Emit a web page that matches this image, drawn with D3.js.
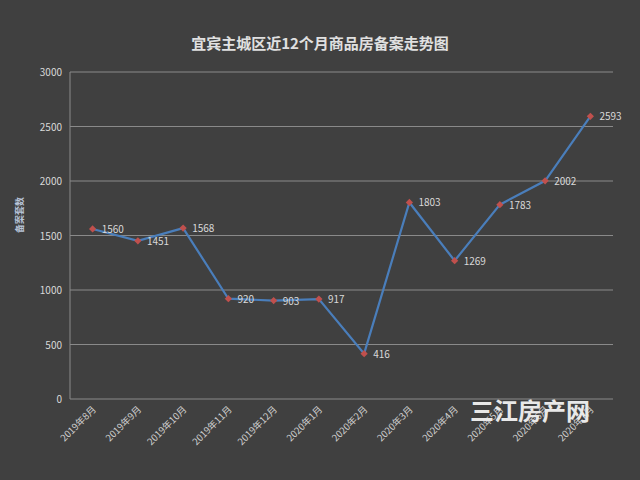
<!DOCTYPE html>
<html><head><meta charset="utf-8">
<script src="https://cdn.jsdelivr.net/npm/d3@7"></script>
<style>body{margin:0;background:#404040}</style>
</head><body><div id="chart"></div>
<script>
var months = ["2019年8月","2019年9月","2019年10月","2019年11月","2019年12月","2020年1月","2020年2月","2020年3月","2020年4月","2020年5月","2020年6月","2020年7月"];
var values = [1560,1451,1568,920,903,917,416,1803,1269,1783,2002,2593];
var yTicks = [0,500,1000,1500,2000,2500,3000];

var w = 640, h = 480;
var svg = d3.select("#chart").append("svg").attr("width", w).attr("height", h)
    .style("background-color", "#404040").style("font-family", "'Noto Sans CJK SC', sans-serif");

var x = d3.scaleBand().domain(months).range([70, 613]);
var y = d3.scaleLinear().domain([0, 3000]).range([399, 72]);

svg.append("text").attr("x", 320).attr("y", 49).attr("text-anchor", "middle")
    .attr("fill", "#e0e0e0").style("font-size", "15px").style("font-weight", "bold")
    .text("宜宾主城区近12个月商品房备案走势图");

// gridlines
svg.selectAll(".grid").data(yTicks).enter().append("line")
    .attr("x1", 70).attr("x2", 613).attr("y1", d => y(d)).attr("y2", d => y(d))
    .attr("stroke", "#8a8a8a").attr("stroke-width", 1);
svg.append("line").attr("x1", 70).attr("x2", 70).attr("y1", 72).attr("y2", 399).attr("stroke", "#8a8a8a");

svg.selectAll(".yl").data(yTicks).enter().append("text")
    .attr("x", 62).attr("y", d => y(d) + 4).attr("text-anchor", "end")
    .attr("fill", "#d9d9d9").style("font-size", "10px").text(d => d);

svg.append("text").attr("transform", "translate(23,215) rotate(-90)").attr("text-anchor", "middle")
    .attr("fill", "#b8c4d8").style("font-size", "9px").style("font-weight", "bold").text("备案套数");

svg.selectAll(".xl").data(months).enter().append("text")
    .attr("transform", d => "translate(" + (x(d) + x.bandwidth()/2 + 4) + ",410) rotate(-45)")
    .attr("text-anchor", "end").attr("fill", "#d0d0d0").style("font-size", "9.5px").text(d => d);

var line = d3.line().x((d, i) => x(months[i]) + x.bandwidth()/2).y(d => y(d));
svg.append("path").datum(values).attr("d", line).attr("fill", "none")
    .attr("stroke", "#4a7ebb").attr("stroke-width", 2.2);

svg.selectAll(".pt").data(values).enter().append("path")
    .attr("d", d3.symbol(d3.symbolSquare, 26))
    .attr("transform", (d, i) => "translate(" + (x(months[i]) + x.bandwidth()/2) + "," + y(d) + ") rotate(45)")
    .attr("fill", "#c0504d");

svg.selectAll(".vl").data(values).enter().append("text")
    .attr("x", (d, i) => x(months[i]) + x.bandwidth()/2 + 9).attr("y", d => y(d) + 4)
    .attr("fill", "#d9d9d9").style("font-size", "10px").text(d => d);

svg.append("text").attr("x", 530).attr("y", 420).attr("text-anchor", "middle")
    .attr("fill", "#e8e8e8").style("font-size", "24px").style("font-weight", "bold").text("三江房产网");
</script></body></html>
